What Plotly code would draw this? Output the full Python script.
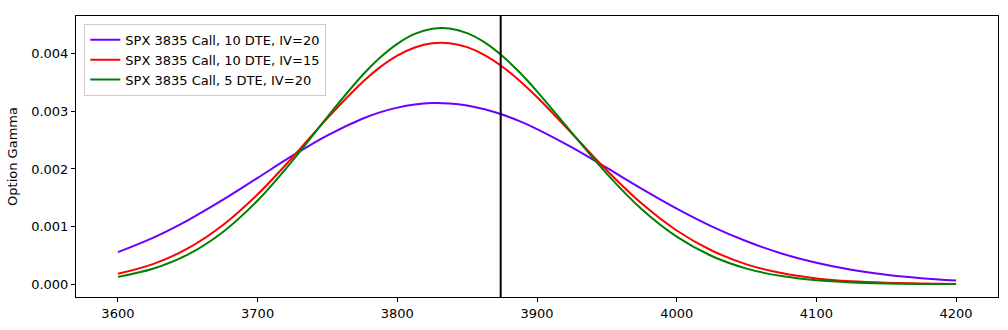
import plotly.graph_objects as go

spot = [3600, 3625, 3650, 3675, 3700, 3725, 3750, 3775, 3787.5, 3800, 3812.5, 3825,
        3837.5, 3850, 3862.5, 3875, 3887.5, 3900,
        3925, 3950, 3975, 4000, 4025, 4050, 4075, 4100, 4125, 4150, 4175, 4200]

gamma_10dte_iv20 = [0.000557, 0.000804, 0.001109, 0.001462, 0.001845, 0.002230, 0.002584,
                    0.002872, 0.002982, 0.003065, 0.003120, 0.003145,
                    0.003138, 0.003102, 0.003037, 0.002945, 0.002830, 0.002693,
                    0.002374, 0.002018, 0.001656, 0.001312, 0.001005, 0.000745, 0.000534,
                    0.000371, 0.000249, 0.000163, 0.000103, 0.000063]
gamma_10dte_iv15 = [0.000180, 0.000348, 0.000621, 0.001023, 0.001560, 0.002202, 0.002883,
                    0.003506, 0.003763, 0.003967, 0.004109, 0.004183,
                    0.004184, 0.004114, 0.003977, 0.003779, 0.003533, 0.003248,
                    0.002615, 0.001974, 0.001399, 0.000932, 0.000585, 0.000345, 0.000193,
                    0.000101, 0.000050, 0.000024, 0.000011, 0.0000045]
gamma_5dte_iv20 = [0.000127, 0.000268, 0.000514, 0.000903, 0.001452, 0.002143, 0.002906,
                   0.003626, 0.003929, 0.004172, 0.004344, 0.004433,
                   0.004438, 0.004357, 0.004196, 0.003965, 0.003678, 0.003348,
                   0.002626, 0.001916, 0.001302, 0.000826, 0.000489, 0.000271, 0.000141,
                   0.000068, 0.000031, 0.000013, 0.0000054, 0.0000021]

series_names = ["SPX 3835 Call, 10 DTE, IV=20",
                "SPX 3835 Call, 10 DTE, IV=15",
                "SPX 3835 Call, 5 DTE, IV=20"]
series_colors = ["#6a00ff", "#ff0000", "#008000"]
current_price = 3874

x_ticks = [3600, 3700, 3800, 3900, 4000, 4100, 4200]
y_ticks = [0.000, 0.001, 0.002, 0.003, 0.004]

fig = go.Figure()
for name, vals, col in zip(series_names,
                           [gamma_10dte_iv20, gamma_10dte_iv15, gamma_5dte_iv20],
                           series_colors):
    fig.add_trace(go.Scatter(x=spot, y=vals, mode="lines", name=name,
                             line=dict(color=col, width=2, shape="spline", smoothing=1)))

fig.add_shape(type="line", x0=current_price, x1=current_price, xref="x",
              y0=0, y1=1, yref="paper", line=dict(color="black", width=2))

axis_common = dict(showgrid=False, zeroline=False, showline=True, linecolor="black",
                   linewidth=1, mirror=True, ticks="outside", ticklen=4, tickcolor="black",
                   tickfont=dict(size=13, color="black"))

fig.update_layout(
    width=1008, height=330,
    margin=dict(l=76, r=9, t=16, b=29),
    paper_bgcolor="white", plot_bgcolor="white",
    font=dict(family="DejaVu Sans", size=13, color="black"),
    xaxis=dict(range=[3570, 4230], tickvals=x_ticks, **axis_common),
    yaxis=dict(range=[-0.000222, 0.004655], tickvals=y_ticks, tickformat=".3f",
               title=dict(text="Option Gamma", font=dict(size=13), standoff=10),
               **axis_common),
    legend=dict(x=0.009, y=0.972, xanchor="left", yanchor="top",
                bgcolor="rgba(255,255,255,0.8)", bordercolor="#cccccc", borderwidth=1,
                font=dict(size=13), tracegroupgap=0, itemwidth=30),
    showlegend=True,
)

fig.write_html("out.html")
